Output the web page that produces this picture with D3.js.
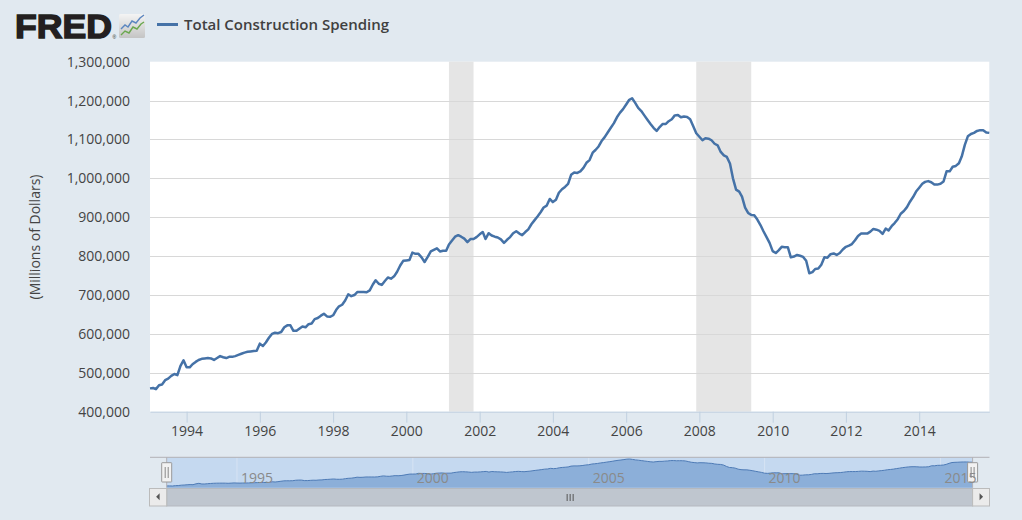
<!DOCTYPE html>
<html>
<head>
<meta charset="utf-8">
<script src="https://cdn.jsdelivr.net/npm/d3@7"></script>
<style>
  body { margin: 0; background: #e1e9f0; }
  svg { display: block; }
</style>
</head>
<body>
<svg id="chart"></svg>
<script>
// Total Construction Spending, monthly, Jan 1993 - Dec 2015 (millions of dollars)
var firstMonth = "1993-01-01"
var spending = [
  460000, 461000, 458000, 468000, 470000, 481000, 485000, 492000, 497000, 494000, 518000, 532000,
  514000, 514000, 522000, 528000, 533000, 536000, 537000, 538000, 537000, 533000, 538000, 543000,
  540000, 538000, 541000, 541000, 543000, 546000, 549000, 552000, 554000, 555000, 556000, 557000,
  575000, 569000, 578000, 590000, 600000, 603000, 602000, 605000, 617000, 622000, 622000, 608000,
  608000, 614000, 619000, 617000, 625000, 627000, 638000, 641000, 647000, 652000, 645000, 644000,
  648000, 662000, 671000, 675000, 686000, 702000, 697000, 700000, 708000, 708000, 708000, 707000,
  712000, 727000, 738000, 729000, 726000, 736000, 745000, 742000, 748000, 760000, 776000, 788000,
  789000, 790000, 809000, 806000, 806000, 797000, 785000, 798000, 812000, 816000, 820000, 812000,
  814000, 814000, 830000, 840000, 850000, 854000, 850000, 845000, 836000, 844000, 844000, 849000,
  856000, 862000, 844000, 859000, 853000, 850000, 848000, 843000, 834000, 842000, 849000, 859000,
  864000, 858000, 854000, 862000, 869000, 882000, 892000, 902000, 913000, 925000, 930000, 947000,
  939000, 945000, 963000, 972000, 978000, 986000, 1009000, 1015000, 1014000, 1018000, 1027000, 1040000,
  1047000, 1066000, 1073000, 1082000, 1096000, 1106000, 1118000, 1130000, 1142000, 1157000, 1169000, 1178000,
  1190000, 1202000, 1206000, 1194000, 1181000, 1173000, 1162000, 1151000, 1140000, 1130000, 1122000, 1132000,
  1140000, 1140000, 1147000, 1152000, 1162000, 1163000, 1157000, 1159000, 1158000, 1152000, 1134000, 1116000,
  1107000, 1098000, 1103000, 1102000, 1098000, 1089000, 1085000, 1068000, 1059000, 1055000, 1038000, 1000000,
  971000, 966000, 953000, 925000, 911000, 906000, 905000, 894000, 880000, 864000, 849000, 834000,
  813000, 808000, 815000, 824000, 823000, 823000, 797000, 799000, 803000, 801000, 798000, 788000,
  756000, 759000, 767000, 768000, 778000, 797000, 796000, 805000, 807000, 803000, 808000, 817000,
  824000, 827000, 831000, 841000, 852000, 858000, 858000, 858000, 863000, 870000, 868000, 865000,
  857000, 871000, 866000, 877000, 885000, 895000, 909000, 916000, 926000, 940000, 952000, 966000,
  976000, 986000, 991000, 993000, 990000, 984000, 984000, 986000, 992000, 1018000, 1018000, 1030000,
  1032000, 1039000, 1056000, 1086000, 1108000, 1114000, 1117000, 1122000, 1124000, 1124000, 1118000, 1117000
]
var recessions = [["2001-03-01", "2001-11-01"], ["2007-12-01", "2009-06-01"]]
var yTicks = [400000, 500000, 600000, 700000, 800000, 900000, 1000000, 1100000, 1200000, 1300000]
var xTickYears = [1994, 1996, 1998, 2000, 2002, 2004, 2006, 2008, 2010, 2012, 2014]
var navTickYears = [1995, 2000, 2005, 2010, 2015]
var seriesName = "Total Construction Spending"
var yTitle = "(Millions of Dollars)"

function drawChart() {
  var parse = d3.timeParse("%Y-%m-%d")
  var start = parse(firstMonth)
  var dataset = spending.map((v, i) => ({date: d3.timeMonth.offset(start, i), value: v}))

  var dimensions = {
    width: 1022,
    height: 520,
    margin: { top: 61.7, bottom: 108.3, right: 32.7, left: 150 }
  }
  var font = "'Open Sans', 'Noto Sans', sans-serif"

  var svg = d3.select("#chart")
    .attr("width", dimensions.width)
    .attr("height", dimensions.height)

  svg.append("rect")
    .attr("width", dimensions.width).attr("height", dimensions.height)
    .attr("fill", "#e1e9f0")

  var plotLeft = dimensions.margin.left
  var plotRight = dimensions.width - dimensions.margin.right
  var plotTop = dimensions.margin.top
  var plotBottom = dimensions.height - dimensions.margin.bottom

  var xAccessor = d => d.date
  var yAccessor = d => d.value

  var xScale = d3.scaleTime()
    .domain(d3.extent(dataset, xAccessor))
    .range([plotLeft, plotRight])

  var yScale = d3.scaleLinear()
    .domain([yTicks[0], yTicks[yTicks.length - 1]])
    .range([plotBottom, plotTop])

  //header
  var header = svg.append("g")
  header.append("text")
    .attr("x", 15).attr("y", 37.7)
    .attr("font-family", "'Liberation Sans', Arial, sans-serif")
    .attr("font-weight", "bold")
    .attr("font-size", 33)
    .attr("textLength", 97)
    .attr("lengthAdjust", "spacingAndGlyphs")
    .attr("fill", "#231f20")
    .attr("stroke", "#231f20")
    .attr("stroke-width", 1.4)
    .text("FRED")
  header.append("text")
    .attr("x", 112.5).attr("y", 38.5)
    .attr("font-family", "'Liberation Sans', Arial, sans-serif")
    .attr("font-size", 5)
    .attr("fill", "#231f20")
    .text("®")

  var grad = svg.append("defs").append("linearGradient")
    .attr("id", "iconGrad").attr("x1", 0).attr("y1", 0).attr("x2", 0).attr("y2", 1)
  grad.append("stop").attr("offset", "0%").attr("stop-color", "#f4f4f4")
  grad.append("stop").attr("offset", "100%").attr("stop-color", "#c4c4c4")
  header.append("rect")
    .attr("x", 119).attr("y", 14).attr("width", 26).attr("height", 24).attr("rx", 1.5)
    .attr("fill", "url(#iconGrad)")
  header.append("polyline")
    .attr("points", "121,29 125,25 128,27 132,21 136,23 140,18 144,15")
    .attr("fill", "none").attr("stroke", "#5b86c0").attr("stroke-width", 1.4)
  header.append("polyline")
    .attr("points", "121,35 125,31 129,33 133,27 137,29 141,24 144,22")
    .attr("fill", "none").attr("stroke", "#6aa84f").attr("stroke-width", 1.4)

  header.append("line")
    .attr("x1", 157).attr("x2", 178).attr("y1", 24.5).attr("y2", 24.5)
    .attr("stroke", "#4572a7").attr("stroke-width", 3)
  header.append("text")
    .attr("x", 184).attr("y", 30)
    .attr("font-family", font)
    .attr("font-size", 15)
    .attr("font-weight", 600)
    .attr("fill", "#404040")
    .text(seriesName)

  //plot background
  svg.append("rect")
    .attr("x", plotLeft).attr("y", plotTop)
    .attr("width", plotRight - plotLeft).attr("height", plotBottom - plotTop)
    .attr("fill", "#ffffff")

  //recessions
  svg.append("g")
    .selectAll("rect")
    .data(recessions)
    .enter()
    .append("rect")
      .attr("x", d => xScale(parse(d[0])))
      .attr("width", d => xScale(parse(d[1])) - xScale(parse(d[0])))
      .attr("y", plotTop)
      .attr("height", plotBottom - plotTop)
      .attr("fill", "#e5e5e5")

  //gridlines
  svg.append("g")
    .selectAll("line")
    .data(yTicks.slice(1, -1))
    .enter()
    .append("line")
      .attr("x1", plotLeft).attr("x2", plotRight)
      .attr("y1", d => Math.round(yScale(d)) + 0.5)
      .attr("y2", d => Math.round(yScale(d)) + 0.5)
      .attr("stroke", "#d8d8d8")

  //axes
  var xAxisGen = d3.axisBottom(xScale)
    .tickValues(xTickYears.map(y => new Date(y, 0, 1)))
    .tickFormat(d3.timeFormat("%Y"))
    .tickSize(11)
    .tickSizeOuter(0)
  var xAxis = svg.append("g")
    .attr("transform", `translate(0,${plotBottom})`)
    .call(xAxisGen)
  xAxis.select(".domain").attr("stroke", "#c0d0e0")
  xAxis.selectAll(".tick line").attr("stroke", "#c0d0e0")
  xAxis.selectAll("text")
    .attr("font-family", font).attr("font-size", 14).attr("fill", "#444")

  var yAxisGen = d3.axisLeft(yScale)
    .tickValues(yTicks)
    .tickFormat(d3.format(","))
    .tickSize(0)
    .tickPadding(20)
  var yAxis = svg.append("g")
    .attr("transform", `translate(${plotLeft},0)`)
    .call(yAxisGen)
  yAxis.select(".domain").remove()
  yAxis.selectAll("text")
    .attr("font-family", font).attr("font-size", 14).attr("fill", "#444")

  svg.append("text")
    .attr("transform", "translate(40,237) rotate(-90)")
    .attr("text-anchor", "middle")
    .attr("font-family", font).attr("font-size", 14).attr("fill", "#444")
    .text(yTitle)

  //series line
  var line = d3.line()
    .x(d => xScale(xAccessor(d)))
    .y(d => yScale(yAccessor(d)))
  svg.append("path")
    .datum(dataset)
    .attr("d", line)
    .attr("fill", "none")
    .attr("stroke", "#4572a7")
    .attr("stroke-width", 2.5)
    .attr("stroke-linejoin", "round")

  //navigator
  var nav = { left: 166.7, right: 972.6, top: 457.3, bottom: 487.7, scrollBottom: 506 }
  var navX = d3.scaleTime()
    .domain(xScale.domain())
    .range([nav.left, nav.right])
  var navY = d3.scaleLinear()
    .domain(d3.extent(dataset, yAccessor))
    .range([486, 459])

  var navG = svg.append("g")
  navG.append("rect")
    .attr("x", nav.left).attr("y", nav.top)
    .attr("width", nav.right - nav.left).attr("height", nav.bottom - nav.top)
    .attr("fill", "#c5d9f0")
  navG.selectAll(".navgrid")
    .data(navTickYears)
    .enter()
    .append("line")
      .attr("x1", d => navX(new Date(d, 0, 1))).attr("x2", d => navX(new Date(d, 0, 1)))
      .attr("y1", nav.top).attr("y2", nav.bottom)
      .attr("stroke", "#d6e3f3")

  var area = d3.area()
    .x(d => navX(xAccessor(d)))
    .y0(nav.bottom)
    .y1(d => navY(yAccessor(d)))
  navG.append("path")
    .datum(dataset)
    .attr("d", area)
    .attr("fill", "#8cafd9")
  navG.append("path")
    .datum(dataset)
    .attr("d", d3.line().x(d => navX(xAccessor(d))).y(d => navY(yAccessor(d))))
    .attr("fill", "none")
    .attr("stroke", "#4e7bb6")
    .attr("stroke-width", 1)

  //outline
  navG.append("path")
    .attr("d", `M150,${nav.top}H989.5M${nav.left},${nav.top}V${nav.bottom}M${nav.right},${nav.top}V${nav.bottom}`)
    .attr("fill", "none").attr("stroke", "#b2b1b6")

  //scrollbar
  var sb = navG.append("g")
  sb.append("rect")
    .attr("x", nav.left).attr("y", nav.bottom + 0.8)
    .attr("width", nav.right - nav.left).attr("height", nav.scrollBottom - nav.bottom - 0.8)
    .attr("fill", "#bfc6cf").attr("stroke", "#b5b9bf")
  ;[[149.5, nav.left], [nav.right, 989.5]].forEach((b, i) => {
    sb.append("rect")
      .attr("x", b[0]).attr("y", nav.bottom + 0.8)
      .attr("width", b[1] - b[0]).attr("height", nav.scrollBottom - nav.bottom - 0.8)
      .attr("fill", "#ebebeb").attr("stroke", "#bbbbbb")
    var cx = (b[0] + b[1]) / 2, cy = (nav.bottom + nav.scrollBottom) / 2
    var pts = i == 0
      ? `${cx - 2},${cy} ${cx + 1.5},${cy - 3.5} ${cx + 1.5},${cy + 3.5}`
      : `${cx + 2},${cy} ${cx - 1.5},${cy - 3.5} ${cx - 1.5},${cy + 3.5}`
    sb.append("polygon").attr("points", pts).attr("fill", "#555")
  })
  var gx = (nav.left + nav.right) / 2
  ;[-3, 0, 3].forEach(o => {
    sb.append("line")
      .attr("x1", gx + o + 0.5).attr("x2", gx + o + 0.5)
      .attr("y1", 494).attr("y2", 501)
      .attr("stroke", "#555")
  })

  //handles
  ;[nav.left, nav.right].forEach(hx => {
    navG.append("rect")
      .attr("x", hx - 5).attr("y", 462.7).attr("width", 10).attr("height", 19.3)
      .attr("fill", "#f2f2f2").attr("stroke", "#999999").attr("rx", 0.5)
    ;[-1.5, 1.5].forEach(o => {
      navG.append("line")
        .attr("x1", hx + o).attr("x2", hx + o)
        .attr("y1", 467).attr("y2", 478)
        .attr("stroke", "#888")
    })
  })

  //navigator labels sit on top of the handles
  navG.selectAll(".navlabel")
    .data(navTickYears)
    .enter()
    .append("text")
      .attr("class", "navlabel")
      .attr("x", d => navX(new Date(d, 0, 1)) + 4)
      .attr("y", 482.5)
      .attr("font-family", font).attr("font-size", 14)
      .attr("fill", "#8a8a8a")
      .text(d => d)
}

drawChart()
</script>
</body>
</html>
